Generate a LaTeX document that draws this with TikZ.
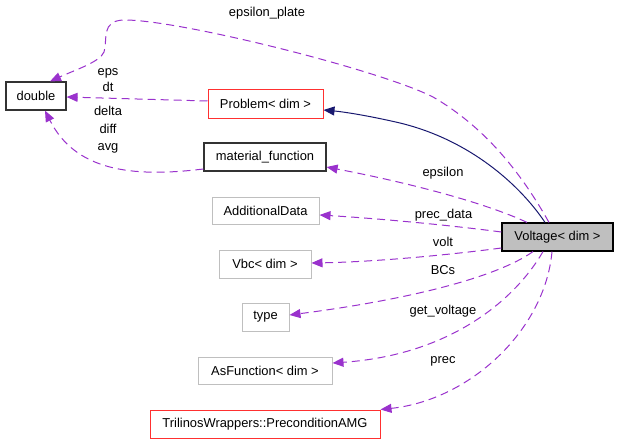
\documentclass[tikz,border=0pt]{standalone}
\usepackage{fontspec}
\setmainfont{Liberation Sans}
\usetikzlibrary{arrows.meta}
\definecolor{dep}{HTML}{9A32CD}
\definecolor{inh}{HTML}{191970}
\definecolor{redb}{HTML}{FF3030}
\definecolor{grayb}{HTML}{BFBFBF}
\tikzset{
  box/.style={draw, line width=1pt, inner sep=0pt, font=\fontsize{12.9}{15}\selectfont},
  blackbox/.style={box, draw=black!80, line width=1.2pt},
  redbox/.style={box, draw=redb},
  graybox/.style={box, draw=grayb},
  lbl/.style={inner sep=0pt, align=center, font=\fontsize{12.9}{15}\selectfont},
  depedge/.style={draw=dep, line width=1pt, dash pattern=on 8pt off 5pt, -{Triangle[length=11pt,width=9pt,fill=dep]}},
  inhedge/.style={draw=inh, line width=1pt, -{Triangle[length=11pt,width=9pt,fill=inh]}}
}
\begin{document}
\begin{tikzpicture}[x=1pt,y=-1pt]
\useasboundingbox (0,0) rectangle (619,444);
% nodes
\node[blackbox, minimum width=60, minimum height=28] (d) at (36,96) {double};
\node[redbox, minimum width=115, minimum height=28] (P) at (265.5,104) {Problem< dim >};
\node[blackbox, minimum width=122, minimum height=28] (M) at (265,157) {material\_function};
\node[graybox, minimum width=107, minimum height=27] (AD) at (265.5,210.5) {AdditionalData};
\node[graybox, minimum width=92, minimum height=28] (Vbc) at (265,264) {Vbc< dim >};
\node[graybox, minimum width=47, minimum height=28] (ty) at (265.5,317) {type};
\node[graybox, minimum width=134, minimum height=27] (AF) at (265,370.5) {AsFunction< dim >};
\node[redbox, minimum width=230, minimum height=28] (T) at (265,424) {TrilinosWrappers::PreconditionAMG};
\node[box, draw=black, line width=1.2pt, fill=grayb, minimum width=111, minimum height=28] (V) at (557.5,237) {Voltage< dim >};
% labels
\node[lbl] (l1) at (267,13) {epsilon\_plate};
\node[lbl, font=\fontsize{12.9}{16}\selectfont] (l2) at (108,80) {eps\\dt};
\node[lbl, font=\fontsize{12.9}{17.5}\selectfont] (l3) at (108,130) {delta\\diff\\avg};
\node[lbl] (l4) at (443,173) {epsilon};
\node[lbl] (l5) at (443.5,215) {prec\_data};
\node[lbl] (l6) at (443,242) {volt};
\node[lbl] (l7) at (443,270) {BCs};
\node[lbl] (l8) at (443,311) {get\_voltage};
\node[lbl] (l9) at (443,361) {prec};
% edges
\draw[depedge] ([xshift=-8.5pt]V.north) .. controls (525,180) and (490,130) .. (433,97)
   .. controls (380,70) and (180,20) .. (125,20)
   .. controls (100,20) and (108,40) .. (104,52)
   .. controls (100,62) and (75,70) .. ([xshift=14pt]d.north);
\draw[depedge] ([yshift=3pt]P.west) -- ([yshift=-1pt]d.east);
\draw[depedge] ([yshift=-12pt]M.west) .. controls (130,178) and (75,170) .. ([xshift=9pt]d.south);
\draw[inhedge] ([xshift=-12.5pt]V.north) .. controls (520,185) and (470,140) .. (400,123)
   .. controls (370,116) and (345,112) .. ([yshift=-6pt]P.east);
\draw[depedge] ([xshift=-30.5pt]V.north) .. controls (490,205) and (420,185) .. ([yshift=-10pt]M.east);
\draw[depedge] ([yshift=5pt]V.west) .. controls (440,224) and (370,218) .. ([yshift=-4.5pt]AD.east);
\draw[depedge] ([yshift=-11pt]V.west) .. controls (440,256) and (370,262) .. ([yshift=1pt]Vbc.east);
\draw[depedge] ([xshift=-24.5pt]V.south) .. controls (500,275) and (420,298) .. ([yshift=2pt]ty.east);
\draw[depedge] ([xshift=-14.5pt]V.south) .. controls (515,300) and (450,355) .. ([yshift=7.5pt]AF.east);
\draw[depedge] ([xshift=-5.5pt]V.south) .. controls (545,330) and (470,400) .. (T.north east);
\end{tikzpicture}
\end{document}
